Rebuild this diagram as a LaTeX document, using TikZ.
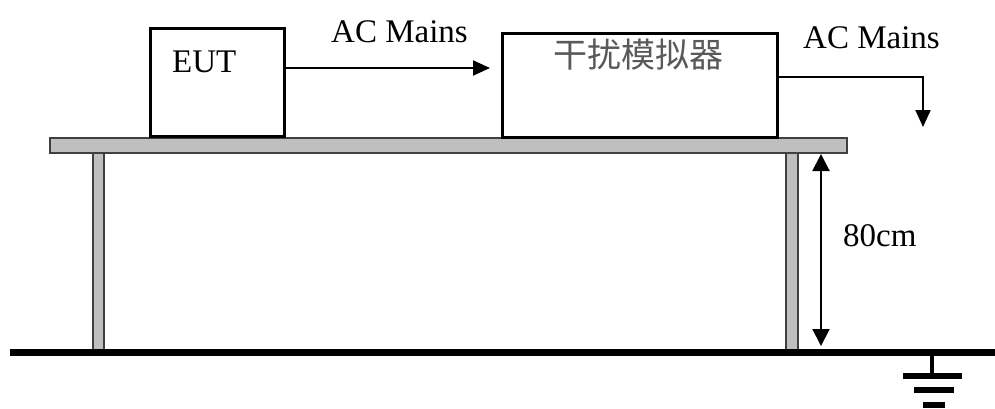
\documentclass[tikz,border=0pt]{standalone}
\usepackage{fontspec}
\setmainfont{Liberation Serif}
\newfontfamily\cjk{Noto Sans CJK SC}
\usetikzlibrary{arrows.meta}
\begin{document}
\begin{tikzpicture}[x=1pt,y=-1pt,
  devbox/.style={draw=black,line width=3pt,fill=white,inner sep=0pt},
  lbl/.style={inner sep=0pt,font=\fontsize{33}{36}\selectfont},
  wire/.style={line width=2pt,-{Triangle[length=17pt,width=15pt]}},
  steel/.style={fill=black!25,draw=black!75,line width=1.8pt},
  dim/.style={line width=2pt,{Triangle[length=17pt,width=17pt]}-{Triangle[length=17pt,width=17pt]}}]
\useasboundingbox (0,0) rectangle (995,408);
% table
\draw[steel] (50,138) rectangle (847,153);
\draw[steel] (93,153) rectangle (104,350);
\draw[steel] (786,153) rectangle (798,350);
% ground plane
\fill (10,349) rectangle (995,356);
% devices
\node[devbox,minimum width=134pt,minimum height=108pt] (eut) at (217,82) {};
\node[lbl,anchor=base west] (eutlbl) at (172,72) {EUT};
\node[devbox,minimum width=275pt,minimum height=104pt] (sim) at (639.5,85) {};
\node[inner sep=0pt,font=\cjk\fontsize{34}{36}\selectfont,text=black!65] (simlbl) at (638,55) {干扰模拟器};
% wires
\coordinate (in) at (490,68);
\draw[wire] (eut.east |- in) -- (in);
\node[lbl,anchor=base west] (ac1) at (331,42) {AC Mains};
\coordinate (outcorner) at (923,77);
\coordinate (outend) at (923,127);
\draw[wire] (sim.east |- outcorner) -- (outcorner) -- (outend);
\node[lbl,anchor=base west] (ac2) at (803,48) {AC Mains};
% dimension
\coordinate (dtop) at (821,154);
\coordinate (dbot) at (821,346);
\draw[dim] (dtop) -- (dbot);
\node[lbl,anchor=base west] (h) at (843,246) {80cm};
% ground symbol
\coordinate (gnd) at (932,356);
\draw[line width=3.5pt] (gnd) -- (932,376);
\fill (903,373) rectangle (962,379);
\fill (914,387) rectangle (954,393);
\fill (923,402) rectangle (945,408);
\end{tikzpicture}
\end{document}
